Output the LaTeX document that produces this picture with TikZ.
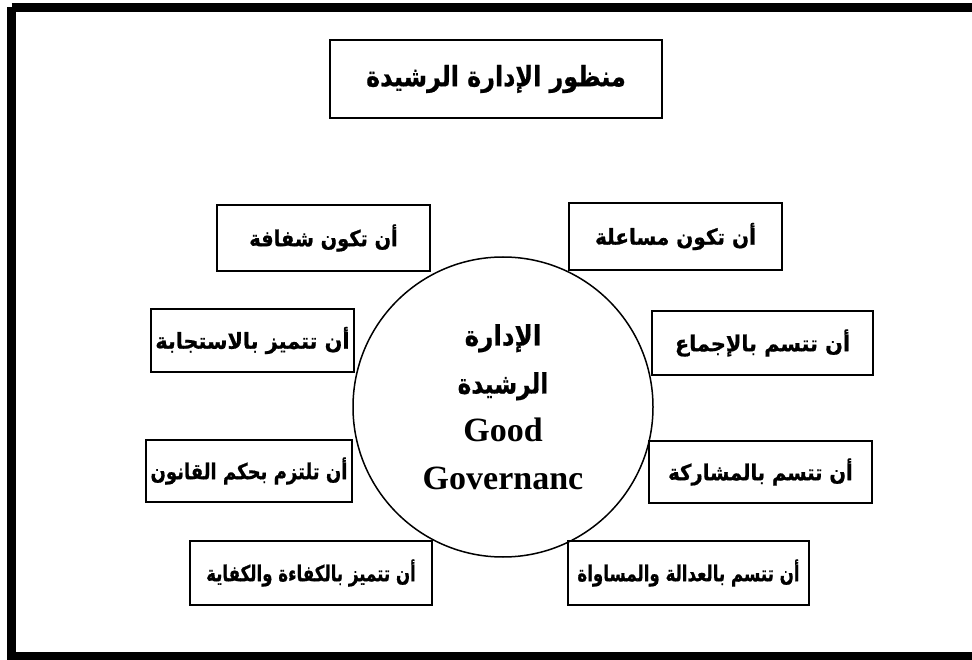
\documentclass[tikz,border=0pt]{standalone}
\usepackage{graphicx}
\usepackage{fontspec}
\setmainfont{Liberation Serif}
\newfontfamily\arabicfont[Script=Arabic, BoldFeatures={FakeBold=0.8}]{DejaVu Sans}
\TeXXeTstate=1
\newcommand{\ar}[2][1]{\scalebox{#1}[1]{\arabicfont\bfseries\beginR #2\endR}}
\begin{document}
\begin{tikzpicture}[x=1pt,y=-1pt,
  box/.style={draw, line width=2pt, rectangle, inner sep=0pt, font=\fontsize{22}{26}\selectfont},
  hub/.style={draw, line width=1.5pt, circle, minimum size=300pt, inner sep=0pt, align=center, font=\bfseries\fontsize{34}{48}\selectfont}
]
\useasboundingbox (0,0) rectangle (972,660);
\draw[line width=8.5pt] (11.5,7.5) -- (985,7.5) (11.5,7.5) -- (11.5,656.5) -- (985,656.5);
\node[box, minimum width=332, minimum height=78, font=\fontsize{28}{30}\selectfont] (title) at (496,79) {\ar[0.85]{منظور الإدارة الرشيدة}};
\node[hub] (c) at (503,407) {\ar[0.88]{\fontsize{28}{48}\selectfont الإدارة}\\\ar[0.83]{\fontsize{28}{48}\selectfont الرشيدة}\\Good\\Governanc};
\node[box, minimum width=213, minimum height=66] (b1) at (323.5,238) {\ar[0.88]{أن تكون شفافة}};
\node[box, minimum width=213, minimum height=67] (b2) at (675.5,236.5) {\ar[0.91]{أن تكون مساعلة}};
\node[box, minimum width=221, minimum height=64] (b3) at (762.5,343) {\ar[0.945]{أن تتسم بالإجماع}};
\node[box, minimum width=203, minimum height=63] (b4) at (252.5,340.5) {\ar[0.945]{أن تتميز بالاستجابة}};
\node[box, minimum width=206, minimum height=62] (b5) at (249,471) {\ar[0.82]{أن تلتزم بحكم القانون}};
\node[box, minimum width=223, minimum height=62] (b6) at (760.5,472) {\ar[0.89]{أن تتسم بالمشاركة}};
\node[box, minimum width=242, minimum height=64] (b7) at (311,573) {\ar[0.755]{أن تتميز بالكفاءة والكفاية}};
\node[box, minimum width=241, minimum height=64] (b8) at (688.5,573) {\ar[0.755]{أن تتسم بالعدالة والمساواة}};
\end{tikzpicture}
\end{document}
